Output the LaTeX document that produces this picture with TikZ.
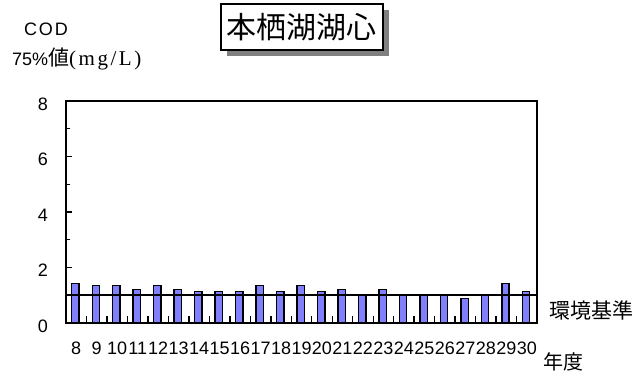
\documentclass[tikz,border=0pt]{standalone}
\usepackage{fontspec}
\setmainfont{Liberation Sans}
\newfontfamily\jpfont{Noto Sans CJK JP}
\newfontfamily\enserif[LetterSpace=12]{Liberation Serif}
\usetikzlibrary{shadows}
\definecolor{barblue}{RGB}{128,128,255}

\begin{document}
\begin{tikzpicture}[x=1pt,y=-1pt,
    axislabel/.style={inner sep=0pt,font=\fontsize{18}{18}\selectfont},
    yearlabel/.style={inner sep=0pt,font=\fontsize{18}{18}\selectfont},
    codbar/.style={draw,line width=1.4pt,fill=barblue}]
    \useasboundingbox (0,0) rectangle (638,376);
    \node[inner sep=0pt,font=\fontsize{18}{18}\selectfont\addfontfeature{LetterSpace=10}] at (46,29) (cod) {COD};
    \node[anchor=west,inner sep=0pt,font=\fontsize{18}{18}\selectfont] at (12,59) (unit) {75\%{\jpfont\fontsize{21}{21}\selectfont 値}{\enserif\fontsize{21}{21}\selectfont (mg/L)}};
    \node[draw,line width=1.8pt,fill=white,inner sep=0pt,minimum width=162pt,minimum height=46pt,
          drop shadow={opacity=1,shadow xshift=6pt,shadow yshift=-6pt},
          font=\jpfont\fontsize{30}{30}\selectfont] at (301.7,27) (title) {本栖湖湖心};
    \begin{scope}[shift={(66,323)},x=20.48pt,y=27.75pt]
        \foreach \v [count=\i from 0] in {1.42,1.35,1.35,1.2,1.35,1.2,1.13,1.13,1.13,1.35,1.13,1.35,1.13,1.2,1.0,1.2,1.0,1.0,1.0,0.89,1.0,1.42,1.13}
            \draw[codbar] (\i+0.28,0) rectangle (\i+0.64,\v);
        \foreach \i in {1,...,22}
            \draw[line width=1.4pt] (\i,0) -- (\i,0.26);
        \foreach \t in {1,3,5,7}
            \draw[line width=1.2pt] (0,\t) -- ++(4pt,0);
        \foreach \t in {2,4,6}
            \draw[line width=1.2pt] (0,\t) -- ++(6pt,0);
        \draw[line width=1.6pt] (0,1) -- (23,1);
        \draw[line width=1.8pt] (0,0) rectangle (23,8);
        \foreach \t in {0,2,...,8}
            \node[axislabel,xshift=-23pt,yshift=-3pt] at (0,\t) (yl\t) {\t};
        \foreach \yr [count=\i from 0] in {8,...,30}
            \node[yearlabel,yshift=-25pt] at (\i+0.5,0) (xl\yr) {\yr};
    \end{scope}
    \node[anchor=west,inner sep=0pt,font=\jpfont\fontsize{21}{21}\selectfont] at (549,310) (std) {環境基準};
    \node[anchor=west,inner sep=0pt,font=\jpfont\fontsize{20}{20}\selectfont] at (543,362) (nendo) {年度};
\end{tikzpicture}
\end{document}
